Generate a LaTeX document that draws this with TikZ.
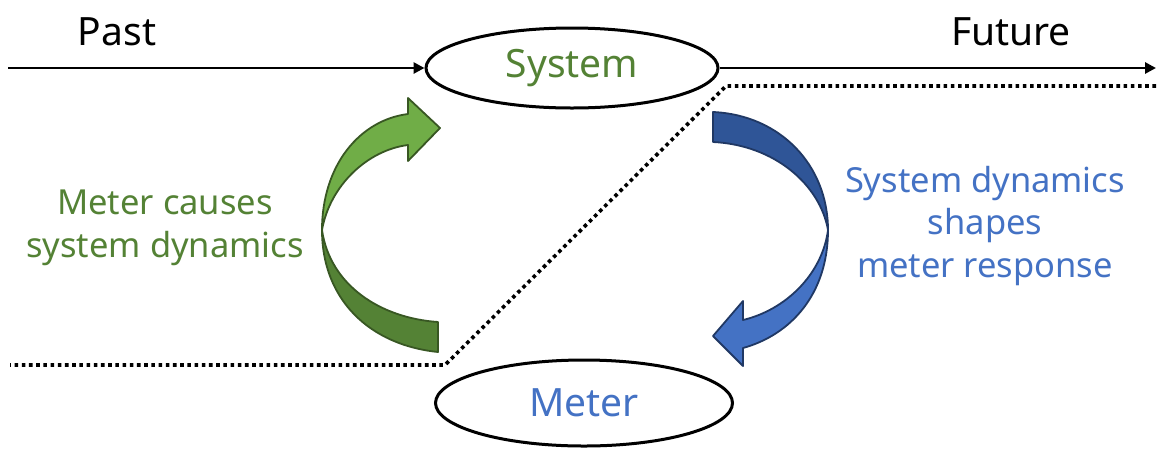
\documentclass[tikz,border=0pt]{standalone}
\usepackage{fontspec}
\setmainfont{Noto Sans}
\usetikzlibrary{shapes.geometric,arrows.meta}
\definecolor{tgreen}{RGB}{84,130,53}
\definecolor{tblue}{RGB}{68,114,196}
\definecolor{glight}{RGB}{112,173,71}
\definecolor{gdark}{RGB}{84,130,53}
\definecolor{gline}{RGB}{56,87,35}
\definecolor{bdark}{RGB}{47,85,151}
\definecolor{blight}{RGB}{68,114,196}
\definecolor{bline}{RGB}{32,56,100}
\tikzset{
  oval/.style={ellipse, draw=black, line width=3pt, inner sep=0pt},
  timeline/.style={line width=2.8pt, -{Triangle[length=11pt,width=11pt]}},
  divider/.style={line width=3.6pt, dash pattern=on 3.6pt off 3.6pt},
  gband/.style={draw=gline, line width=1.8pt, line join=round},
  bband/.style={draw=bline, line width=1.8pt, line join=round},
  bigtext/.style={font=\fontsize{39}{44}\selectfont},
  lbl/.style={font=\fontsize{34.5}{42.5}\selectfont, align=center},
}
\begin{document}
\begin{tikzpicture}[x=1pt,y=-1pt]
\useasboundingbox (0,0) rectangle (1158,456);
% ellipses
\node[oval, minimum width=292pt, minimum height=80pt, text=tgreen, bigtext] (sys) at (572,68) {System};
\node[oval, minimum width=297pt, minimum height=86pt, text=tblue, bigtext] (met) at (584,403) {Meter};
% timeline
\coordinate (tl) at (8,68);
\coordinate (tr) at (1156,68);
\draw[timeline] (tl) -- (sys.west);
\draw[timeline] (sys.east) -- (tr);
\node[bigtext, anchor=base] (past) at (117,45) {Past};
\node[bigtext, anchor=base] (fut) at (1011,45) {Future};
% dotted divider
\coordinate (d1) at (1156,86);
\coordinate (d2) at (726,86);
\coordinate (d3) at (445,365);
\coordinate (d4) at (10,365);
\draw[divider] (d1) -- (d2) -- (d3) -- (d4);
% green arrow
\fill[gdark] (322,230) .. controls (322,300) and (370,345) .. (438,352) -- (438,322) .. controls (380,318) and (330,285) .. (322,230) -- cycle;
\draw[gband] (322,230) .. controls (322,300) and (370,345) .. (438,352) -- (438,322) .. controls (380,318) and (330,285) .. (322,230) -- cycle;
\fill[glight] (322,230) .. controls (322,165) and (360,120) .. (408,114) -- (408,98) -- (440,128) -- (408,161) -- (408,145) .. controls (368,150) and (330,185) .. (322,230) -- cycle;
\draw[gband] (322,230) .. controls (322,165) and (360,120) .. (408,114) -- (408,98) -- (440,128) -- (408,161) -- (408,145) .. controls (368,150) and (330,185) .. (322,230) -- cycle;
% blue arrow
\fill[bdark] (713,112) .. controls (780,115) and (828,165) .. (828,230) .. controls (820,185) and (775,145) .. (713,142) -- cycle;
\draw[bband] (713,112) .. controls (780,115) and (828,165) .. (828,230) .. controls (820,185) and (775,145) .. (713,142) -- cycle;
\fill[blight] (828,230) .. controls (828,295) and (790,335) .. (743,348) -- (743,366) -- (713,336) -- (743,301) -- (743,320) .. controls (785,310) and (822,275) .. (828,230) -- cycle;
\draw[bband] (828,230) .. controls (828,295) and (790,335) .. (743,348) -- (743,366) -- (713,336) -- (743,301) -- (743,320) .. controls (785,310) and (822,275) .. (828,230) -- cycle;
% labels
\node[lbl, text=tgreen] (gl) at (165,228) {Meter causes\\system dynamics};
\node[lbl, text=tblue] (bl) at (985,226) {System dynamics\\shapes\\meter response};
\end{tikzpicture}
\end{document}
